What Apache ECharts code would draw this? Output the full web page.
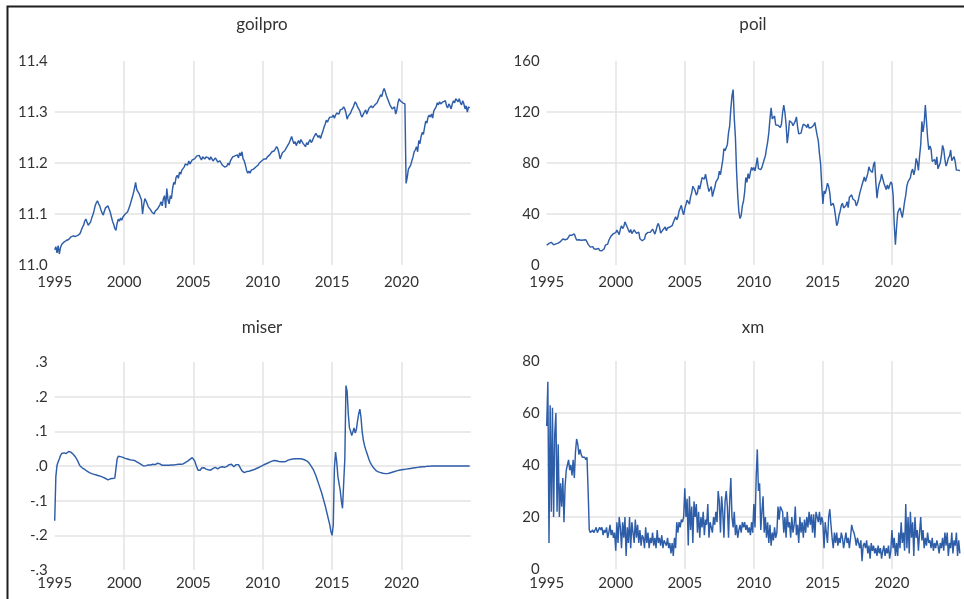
<!DOCTYPE html>
<html>
<head>
<meta charset="utf-8">
<script src="https://cdn.jsdelivr.net/npm/echarts@6/dist/echarts.min.js"></script>
<style>
  html, body { margin: 0; padding: 0; background: #ffffff; }
  #chart { width: 964px; height: 599px; }
</style>
</head>
<body>
<div id="chart"></div>
<script>
// Monthly observations, January 1995 to December 2024 (one row per year)
const START_YEAR = 1995;
const yearRange = [1995, 2025];

const goilpro = [
  11.030, 11.036, 11.024, 11.038, 11.022, 11.034, 11.040, 11.037, 11.045, 11.042, 11.048, 11.046,
  11.050, 11.053, 11.055, 11.054, 11.057, 11.055, 11.056, 11.054, 11.058, 11.056, 11.062, 11.068,
  11.074, 11.078, 11.086, 11.090, 11.084, 11.078, 11.076, 11.084, 11.092, 11.098, 11.106, 11.116,
  11.122, 11.126, 11.120, 11.116, 11.108, 11.102, 11.098, 11.106, 11.112, 11.110, 11.116, 11.114,
  11.104, 11.095, 11.086, 11.080, 11.072, 11.068, 11.082, 11.090, 11.086, 11.092, 11.088, 11.094,
  11.096, 11.100, 11.098, 11.104, 11.110, 11.116, 11.124, 11.132, 11.140, 11.150, 11.162, 11.148,
  11.144, 11.140, 11.142, 11.128, 11.100, 11.118, 11.130, 11.126, 11.120, 11.114, 11.116, 11.108,
  11.104, 11.102, 11.100, 11.106, 11.104, 11.110, 11.108, 11.118, 11.124, 11.116, 11.130, 11.136,
  11.112, 11.150, 11.128, 11.120, 11.136, 11.130, 11.150, 11.162, 11.158, 11.172, 11.176, 11.170,
  11.182, 11.178, 11.186, 11.184, 11.192, 11.198, 11.200, 11.196, 11.204, 11.198, 11.202, 11.206,
  11.204, 11.208, 11.210, 11.214, 11.212, 11.215, 11.210, 11.206, 11.212, 11.210, 11.208, 11.212,
  11.214, 11.210, 11.206, 11.212, 11.208, 11.204, 11.206, 11.210, 11.206, 11.202, 11.200, 11.204,
  11.200, 11.196, 11.198, 11.192, 11.190, 11.194, 11.200, 11.196, 11.204, 11.208, 11.212, 11.210,
  11.214, 11.212, 11.216, 11.210, 11.220, 11.214, 11.222, 11.208, 11.204, 11.196, 11.186, 11.180,
  11.184, 11.180, 11.186, 11.184, 11.188, 11.186, 11.192, 11.194, 11.196, 11.200, 11.198, 11.204,
  11.206, 11.208, 11.210, 11.208, 11.212, 11.214, 11.216, 11.218, 11.222, 11.220, 11.224, 11.226,
  11.232, 11.228, 11.220, 11.208, 11.214, 11.220, 11.218, 11.224, 11.228, 11.232, 11.236, 11.240,
  11.246, 11.252, 11.244, 11.238, 11.242, 11.234, 11.240, 11.244, 11.238, 11.246, 11.242, 11.238,
  11.236, 11.232, 11.240, 11.236, 11.242, 11.246, 11.240, 11.244, 11.250, 11.254, 11.258, 11.254,
  11.250, 11.254, 11.248, 11.256, 11.262, 11.270, 11.276, 11.284, 11.280, 11.286, 11.290, 11.288,
  11.290, 11.294, 11.288, 11.294, 11.298, 11.300, 11.296, 11.304, 11.302, 11.306, 11.310, 11.306,
  11.298, 11.286, 11.292, 11.290, 11.298, 11.304, 11.308, 11.314, 11.320, 11.316, 11.310, 11.306,
  11.302, 11.294, 11.290, 11.296, 11.300, 11.304, 11.296, 11.302, 11.308, 11.310, 11.312, 11.308,
  11.310, 11.314, 11.312, 11.318, 11.324, 11.328, 11.334, 11.330, 11.340, 11.346, 11.340, 11.332,
  11.326, 11.320, 11.314, 11.312, 11.306, 11.304, 11.310, 11.296, 11.304, 11.318, 11.326, 11.322,
  11.320, 11.318, 11.320, 11.316, 11.160, 11.172, 11.188, 11.192, 11.196, 11.198, 11.212, 11.222,
  11.226, 11.232, 11.222, 11.244, 11.238, 11.252, 11.260, 11.256, 11.270, 11.282, 11.278, 11.290,
  11.294, 11.290, 11.296, 11.288, 11.302, 11.300, 11.310, 11.318, 11.314, 11.320, 11.316, 11.318,
  11.320, 11.318, 11.322, 11.312, 11.308, 11.316, 11.312, 11.306, 11.316, 11.322, 11.318, 11.326,
  11.324, 11.320, 11.326, 11.318, 11.314, 11.322, 11.316, 11.306, 11.312, 11.300, 11.310, 11.308
];

const poil = [
  15.5, 16.5, 17.0, 18.2, 17.8, 16.6, 15.8, 16.2, 16.6, 16.4, 17.2, 18.0,
  18.4, 18.6, 20.4, 21.8, 19.8, 19.2, 20.4, 21.2, 23.4, 24.6, 23.4, 24.0,
  24.4, 21.8, 19.6, 18.8, 19.8, 18.8, 19.4, 19.4, 19.6, 21.0, 19.8, 18.2,
  16.2, 15.0, 14.0, 14.6, 14.4, 12.8, 13.0, 12.4, 13.8, 13.0, 11.4, 10.0,
  11.2, 10.6, 12.8, 15.6, 15.6, 16.4, 19.4, 20.8, 22.8, 22.2, 24.6, 25.8,
  25.4, 27.4, 28.0, 23.8, 28.2, 30.8, 28.6, 30.2, 33.8, 31.8, 33.2, 27.4,
  25.6, 27.8, 24.6, 25.4, 27.6, 26.6, 24.8, 25.6, 25.8, 20.6, 19.4, 19.0,
  19.6, 20.4, 24.0, 25.4, 25.6, 24.2, 25.6, 26.2, 28.2, 27.6, 24.2, 27.0,
  30.8, 32.6, 29.8, 25.0, 25.8, 27.6, 28.4, 29.8, 26.8, 29.0, 28.8, 29.8,
  31.2, 30.8, 33.4, 33.2, 37.8, 35.4, 37.6, 42.2, 41.4, 46.8, 42.2, 39.4,
  44.2, 45.6, 50.8, 50.6, 47.8, 53.4, 56.6, 61.8, 61.6, 58.2, 54.8, 56.6,
  62.4, 59.6, 60.2, 68.6, 68.4, 67.4, 71.2, 71.4, 61.6, 57.6, 58.6, 61.6,
  53.6, 57.4, 60.6, 65.0, 65.2, 68.2, 73.6, 70.8, 76.8, 82.2, 91.4, 89.6,
  91.0, 94.6, 103.8, 109.2, 122.6, 132.6, 137.6, 114.8, 99.8, 73.2, 54.6, 41.4,
  36.4, 38.8, 46.4, 50.0, 57.2, 68.6, 64.8, 71.6, 67.8, 72.8, 76.6, 74.4,
  76.4, 73.8, 78.8, 84.2, 75.6, 74.8, 74.8, 76.6, 77.8, 82.8, 85.6, 91.4,
  96.4, 103.8, 114.6, 123.2, 114.6, 113.8, 116.8, 109.8, 110.2, 109.6, 110.6, 107.8,
  110.6, 119.6, 125.4, 119.6, 110.4, 95.6, 102.8, 113.2, 112.8, 111.6, 109.2, 109.4,
  112.8, 116.2, 108.4, 102.8, 102.6, 103.4, 107.4, 110.4, 111.2, 109.4, 107.8, 110.6,
  107.4, 108.8, 107.8, 107.8, 109.6, 111.8, 106.6, 101.6, 97.4, 87.4, 79.4, 62.4,
  47.8, 58.0, 56.0, 59.8, 64.2, 61.6, 56.6, 46.6, 47.6, 48.4, 44.4, 38.0,
  30.8, 33.2, 39.0, 42.2, 46.8, 48.4, 44.8, 45.8, 46.6, 49.6, 45.0, 53.2,
  54.6, 55.0, 51.8, 52.2, 50.4, 46.4, 48.4, 51.8, 56.2, 57.6, 62.8, 64.2,
  69.0, 65.4, 66.2, 71.8, 77.0, 74.4, 74.2, 72.6, 78.8, 81.0, 64.8, 52.4,
  59.8, 64.0, 66.4, 71.2, 71.2, 64.2, 63.8, 59.2, 62.8, 59.6, 62.6, 65.2,
  63.6, 55.0, 32.0, 16.0, 29.4, 40.8, 43.2, 44.8, 41.0, 37.2, 43.0, 49.8,
  54.8, 62.2, 65.4, 64.8, 68.4, 73.2, 75.2, 70.8, 74.6, 83.6, 80.8, 74.2,
  85.6, 94.2, 112.6, 104.4, 111.0, 125.4, 112.8, 99.6, 90.4, 93.4, 90.8, 81.2,
  82.6, 82.8, 78.6, 84.8, 75.4, 74.8, 80.2, 86.2, 93.8, 90.6, 82.8, 77.6,
  80.2, 83.8, 85.4, 90.2, 81.8, 82.8, 85.0, 80.8, 74.4, 75.6, 74.4, 73.8
];

const miser = [
  -0.158, -0.030, 0.002, 0.012, 0.020, 0.030, 0.036, 0.034, 0.038, 0.040, 0.036, 0.038,
  0.042, 0.044, 0.040, 0.036, 0.034, 0.030, 0.026, 0.022, 0.014, 0.006, 0.000, -0.004,
  -0.006, -0.008, -0.010, -0.012, -0.015, -0.017, -0.019, -0.020, -0.022, -0.023, -0.024, -0.025,
  -0.026, -0.027, -0.028, -0.029, -0.030, -0.031, -0.033, -0.034, -0.036, -0.038, -0.040, -0.039,
  -0.037, -0.036, -0.036, -0.035, -0.035, -0.034, 0.020, 0.028, 0.029, 0.027, 0.026, 0.025,
  0.024, 0.022, 0.021, 0.020, 0.019, 0.018, 0.018, 0.017, 0.016, 0.016, 0.014, 0.012,
  0.010, 0.008, 0.006, 0.004, 0.002, 0.000, 0.000, 0.001, 0.002, 0.003, 0.003, 0.003,
  0.004, 0.005, 0.005, 0.004, 0.006, 0.008, 0.010, 0.006, 0.003, 0.002, 0.002, 0.002,
  0.002, 0.002, 0.002, 0.002, 0.002, 0.003, 0.003, 0.003, 0.004, 0.004, 0.004, 0.005,
  0.005, 0.005, 0.006, 0.006, 0.008, 0.010, 0.012, 0.014, 0.016, 0.019, 0.022, 0.024,
  0.022, 0.015, 0.006, -0.004, -0.012, -0.014, -0.012, -0.006, -0.004, -0.005, -0.007, -0.009,
  -0.010, -0.011, -0.012, -0.012, -0.010, -0.007, -0.005, -0.004, -0.006, -0.008, -0.006, -0.004,
  -0.003, -0.002, -0.002, -0.004, -0.003, -0.001, 0.002, 0.004, 0.006, 0.005, 0.001, -0.002,
  0.000, 0.004, 0.007, 0.004, -0.002, -0.008, -0.014, -0.018, -0.019, -0.017, -0.016, -0.016,
  -0.015, -0.014, -0.013, -0.012, -0.011, -0.010, -0.008, -0.007, -0.005, -0.004, -0.002, 0.000,
  0.002, 0.003, 0.005, 0.006, 0.008, 0.010, 0.011, 0.012, 0.014, 0.015, 0.016, 0.016,
  0.015, 0.014, 0.013, 0.012, 0.012, 0.012, 0.012, 0.012, 0.013, 0.015, 0.017, 0.018,
  0.019, 0.020, 0.020, 0.021, 0.021, 0.021, 0.021, 0.021, 0.021, 0.021, 0.020, 0.019,
  0.018, 0.017, 0.015, 0.012, 0.009, 0.005, -0.001, -0.006, -0.012, -0.020, -0.028, -0.038,
  -0.048, -0.058, -0.068, -0.078, -0.090, -0.102, -0.114, -0.128, -0.142, -0.156, -0.170, -0.190,
  -0.200, -0.170, -0.005, 0.040, 0.012, -0.030, -0.050, -0.070, -0.100, -0.122, -0.125, 0.020,
  0.232, 0.215, 0.150, 0.110, 0.100, 0.088, 0.092, 0.110, 0.095, 0.105, 0.130, 0.150,
  0.164, 0.140, 0.100, 0.075, 0.060, 0.048, 0.038, 0.028, 0.018, 0.010, 0.004, -0.001,
  -0.006, -0.010, -0.013, -0.015, -0.017, -0.018, -0.019, -0.020, -0.021, -0.021, -0.022, -0.022,
  -0.022, -0.021, -0.020, -0.019, -0.018, -0.017, -0.016, -0.015, -0.014, -0.013, -0.012, -0.012,
  -0.011, -0.011, -0.010, -0.010, -0.009, -0.009, -0.008, -0.008, -0.007, -0.007, -0.006, -0.006,
  -0.005, -0.005, -0.004, -0.004, -0.003, -0.003, -0.002, -0.002, -0.002, -0.001, -0.001, -0.001,
  -0.001, -0.001, 0.000, 0.000, 0.000, 0.000, 0.000, 0.000, 0.000, 0.000, 0.000, 0.000,
  0.000, 0.000, 0.000, 0.000, 0.000, 0.000, 0.000, 0.000, 0.000, 0.000, 0.000, 0.000,
  0.000, 0.000, 0.000, 0.000, 0.000, 0.000, 0.000, 0.000, 0.000, 0.000, 0.000, 0.000
];

const xm = [
  55, 72, 10, 63, 22, 62, 20, 52, 60, 22, 48, 20,
  33, 24, 35, 18, 32, 38, 40, 42, 38, 40, 36, 42,
  35, 45, 50, 48, 44, 46, 44, 43, 43, 43, 42, 43,
  30, 15, 14, 14, 15, 14, 15, 16, 14, 15, 16, 15,
  16, 13, 15, 14, 16, 12, 14, 17, 13, 15, 12, 14,
  7, 18, 10, 20, 16, 8, 18, 12, 20, 5, 16, 10,
  20, 8, 18, 14, 10, 19, 12, 17, 10, 15, 9, 13,
  12, 8, 16, 10, 14, 8, 12, 10, 14, 9, 12, 8,
  15, 10, 12, 9, 13, 8, 11, 10, 9, 12, 8, 10,
  6, 10, 5, 12, 8, 18, 14, 18, 16, 19, 18, 20,
  31, 20, 27, 9, 28, 15, 24, 10, 26, 20, 25, 14,
  22, 12, 20, 16, 22, 13, 19, 17, 25, 12, 18, 16,
  14, 20, 17, 22, 18, 30, 26, 14, 28, 22, 12, 26,
  30, 24, 12, 26, 35, 20, 16, 22, 13, 17, 12, 15,
  17, 14, 18, 16, 18, 15, 17, 14, 16, 13, 18, 14,
  25, 16, 35, 46, 30, 33, 15, 22, 28, 14, 20, 12,
  18, 10, 17, 9, 14, 11, 16, 12, 14, 24, 19, 24,
  24, 22, 14, 20, 12, 22, 16, 18, 12, 20, 14, 17,
  24, 13, 17, 10, 20, 14, 18, 12, 19, 14, 20, 16,
  22, 17, 21, 14, 21, 12, 22, 20, 18, 22, 17, 20,
  18, 8, 18, 14, 10, 20, 23, 17, 12, 8, 14, 10,
  14, 9, 12, 10, 14, 12, 8, 11, 14, 10, 12, 8,
  12, 17, 15, 14, 12, 9, 12, 10, 8, 11, 3, 9,
  10, 8, 11, 6, 9, 4, 10, 7, 9, 6, 8, 5,
  9, 6, 8, 4, 7, 9, 5, 8, 6, 9, 4, 7,
  15, 8, 12, 5, 10, 5, 14, 8, 18, 10, 14, 7,
  25, 8, 20, 6, 22, 12, 18, 5, 20, 12, 15, 7,
  14, 20, 11, 15, 8, 12, 9, 14, 10, 11, 8, 12,
  7, 10, 8, 11, 9, 6, 10, 8, 12, 7, 14, 9,
  14, 5, 10, 8, 14, 6, 11, 9, 14, 5, 11, 6
];

// Pair each monthly value with its date expressed in fractional years
function monthly(values) {
  return values.map(function (v, i) { return [START_YEAR + i / 12, v]; });
}

const TEXT_FONT = 'Lato, "Liberation Sans", sans-serif';
const LABEL_COLOR = '#333333';
const GRID_COLOR = '#e3e3e3';
const LINE_COLOR = '#2f5ea9';

function oneDecimal(v) { return (Math.round(v * 10) / 10).toFixed(1); }
function noLeadingZero(v) {
  const r = Math.round(v * 10) / 10;
  if (r === 0) return '.0';
  return r.toFixed(1).replace('0.', '.');
}
function plainInt(v) { return String(Math.round(v)); }

const panels = [
  { name: 'goilpro', values: goilpro, grid: { left: 54.7, top: 61, width: 416.1, height: 204 },
    yMin: 11.0, yMax: 11.4, yStep: 0.1, yFmt: oneDecimal, xMargin: 10, title: [262, 25] },
  { name: 'poil', values: poil, grid: { left: 546.7, top: 61, width: 416.1, height: 204 },
    yMin: 0, yMax: 160, yStep: 40, yFmt: plainInt, xMargin: 10, title: [753, 25] },
  { name: 'miser', values: miser, grid: { left: 54.7, top: 362, width: 416.1, height: 208 },
    yMin: -0.3, yMax: 0.3, yStep: 0.1, yFmt: noLeadingZero, xMargin: 6, title: [262, 328] },
  { name: 'xm', values: xm, grid: { left: 546.7, top: 361, width: 416.1, height: 208 },
    yMin: 0, yMax: 80, yStep: 20, yFmt: plainInt, xMargin: 7, title: [753, 328] }
];

const option = {
  animation: false,
  backgroundColor: '#ffffff',
  grid: panels.map(function (p) { return Object.assign({ containLabel: false }, p.grid); }),
  xAxis: panels.map(function (p, i) {
    return {
      type: 'value', gridIndex: i,
      min: yearRange[0], max: yearRange[1], interval: 5,
      axisLine: { show: false }, axisTick: { show: false },
      axisLabel: {
        margin: p.xMargin, fontFamily: TEXT_FONT, fontSize: 15, color: LABEL_COLOR,
        formatter: function (v) { return v < yearRange[1] ? String(Math.round(v)) : ''; }
      },
      splitLine: { show: true, showMinLine: false, showMaxLine: false,
        lineStyle: { color: GRID_COLOR, width: 1.5 } }
    };
  }),
  yAxis: panels.map(function (p, i) {
    return {
      type: 'value', gridIndex: i,
      min: p.yMin, max: p.yMax, interval: p.yStep,
      axisLine: { show: false }, axisTick: { show: false },
      axisLabel: { margin: 7, fontFamily: TEXT_FONT, fontSize: 15, color: LABEL_COLOR, formatter: p.yFmt },
      splitLine: { show: true, showMinLine: false, showMaxLine: false,
        lineStyle: { color: GRID_COLOR, width: 1.5 } }
    };
  }),
  series: panels.map(function (p, i) {
    return {
      name: p.name, type: 'line', xAxisIndex: i, yAxisIndex: i,
      data: monthly(p.values), showSymbol: false, symbol: 'none',
      lineStyle: { color: LINE_COLOR, width: 1.45 }, silent: true
    };
  }),
  graphic: panels.map(function (p) {
    return {
      type: 'text', x: p.title[0], y: p.title[1], silent: true,
      style: { text: p.name, fill: '#333333', font: '17px ' + TEXT_FONT,
        align: 'center', verticalAlign: 'middle' }
    };
  }).concat([{
    type: 'polyline', silent: true,
    shape: { points: [[7.5, 599], [7.5, 6.5], [964, 6.5]] },
    style: { stroke: '#1e1e1e', lineWidth: 2, fill: null }
  }])
};

const chart = echarts.init(document.getElementById('chart'), null, { renderer: 'canvas' });
chart.setOption(option);
</script>
</body>
</html>
